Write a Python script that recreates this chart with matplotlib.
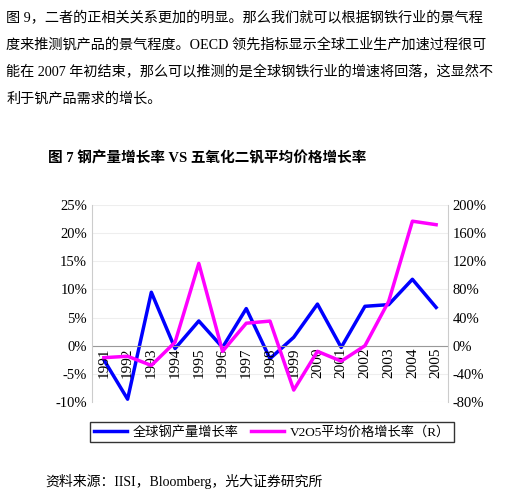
import matplotlib.pyplot as plt
from matplotlib.ticker import FuncFormatter

plt.rcParams['font.family'] = ['Liberation Serif', 'Noto Sans CJK SC']

years = [str(y) for y in range(1991, 2006)]
steel = [-2.5, -9.5, 9.5, -0.5, 4.4, -0.3, 6.6, -2.3, 1.5, 7.4, -0.3, 7.0, 7.3, 11.8, 6.8]
v2o5 = [-17, -15, -28, 5, 117, -8, 32, 35, -63, -8, -22, 0, 63, 177, 172]

paragraph = [
    "图 9，二者的正相关关系更加的明显。那么我们就可以根据钢铁行业的景气程",
    "度来推测钒产品的景气程度。OECD 领先指标显示全球工业生产加速过程很可",
    "能在 2007 年初结束，那么可以推测的是全球钢铁行业的增速将回落，这显然不",
    "利于钒产品需求的增长。",
]

fig = plt.figure(figsize=(5.31, 5.0), dpi=100)
for i, line in enumerate(paragraph):
    fig.text(0.012, 1 - (18 + 27 * i) / 500, line, fontsize=10.2, va='center', ha='left')
fig.text(0.09, 1 - 158 / 500, "图 7 钢产量增长率 VS 五氧化二钒平均价格增长率",
         fontsize=10.5, fontweight='bold', va='center')

ax = fig.add_axes([92 / 531, 1 - 402 / 500, 356 / 531, 197 / 500])
x = range(len(years))
ax.plot(x, steel, color='#0000FF', lw=2.5, label='全球钢产量增长率')
ax.set_ylim(-10, 25)
ax.set_xlim(-0.5, len(years) - 0.5)
ax.yaxis.set_major_formatter(FuncFormatter(lambda v, p: f"{v:.0f}%"))
ax.set_yticks(range(-10, 30, 5))
ax.grid(axis='y', color='#eeeeee', lw=0.8)
ax.axhline(0, color='#999999', lw=0.8)
ax.set_xticks([])
for i, yr in enumerate(years):
    ax.text(i, -0.4, yr, rotation=90, ha='center', va='top', fontsize=11)
for sp in ['top', 'bottom']:
    ax.spines[sp].set_visible(False)
for sp in ['left', 'right']:
    ax.spines[sp].set_color('#cccccc')
ax.tick_params(axis='y', length=0, labelsize=10.5)

ax2 = ax.twinx()
ax2.plot(x, v2o5, color='#FF00FF', lw=2.5, label='V2O5平均价格增长率（R）')
ax2.set_ylim(-80, 200)
ax2.set_yticks(range(-80, 240, 40))
ax2.yaxis.set_major_formatter(FuncFormatter(lambda v, p: f"{v:.0f}%"))
ax2.tick_params(axis='y', length=0, labelsize=10.5)
for sp in ['top', 'bottom', 'left', 'right']:
    ax2.spines[sp].set_visible(False)

h1, l1 = ax.get_legend_handles_labels()
h2, l2 = ax2.get_legend_handles_labels()
fig.legend(h1 + h2, l1 + l2, loc='center', bbox_to_anchor=(272 / 531, 1 - 432 / 500),
           ncol=2, fontsize=9.5, frameon=True, fancybox=False, edgecolor='black',
           handlelength=2.5, handletextpad=0.4, columnspacing=1.0,
           borderpad=0.3)

fig.text(0.085, 1 - 481 / 500, "资料来源：IISI，Bloomberg，光大证券研究所", fontsize=10, va='center')

fig.savefig('out.png', dpi=100)
